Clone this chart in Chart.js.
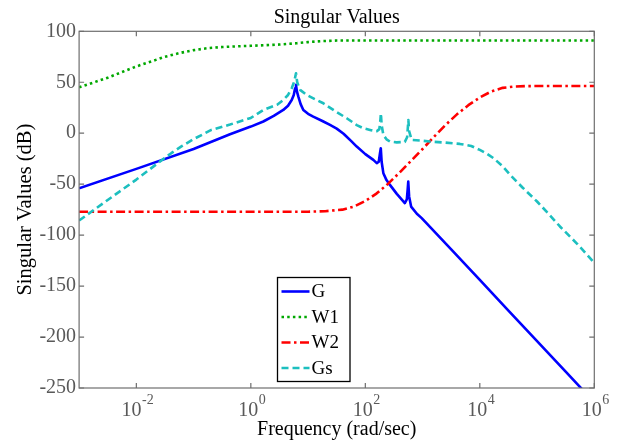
<!DOCTYPE html>
<html><head><meta charset="utf-8">
<script src="https://cdn.jsdelivr.net/npm/chart.js@4/dist/chart.umd.min.js"></script>
<style>html,body{margin:0;padding:0;background:#fff}canvas{display:block}</style>
</head><body>
<canvas id="c" width="620" height="441"></canvas>
<script>
// ---- data (x given as log10 of frequency in rad/sec, y in dB) ----
const seriesNames = ['G', 'W1', 'W2', 'Gs'];

const gExp = [-3,-2,-1,-0.364,0,0.218,0.4,0.567,0.65,0.714,0.75,0.772,0.789,0.805,0.83,0.87,0.917,1.0,1.09,1.25,1.383,1.5,1.62,1.75,1.85,2.0,2.14,2.2,2.235,2.255,2.27,2.285,2.315,2.37,2.43,2.55,2.69,2.725,2.74,2.75,2.765,2.8,2.9,2.985,3.5,4,4.5,5,5.5,6];
const gDb  = [-54,-35,-15.5,-1,6.5,11.5,17,22.8,27,32.6,37.5,44,47.4,41,35.9,28.5,22.8,19,16.3,12,8.1,4.5,-0.5,-7.5,-13.1,-20.5,-26.2,-29.4,-28,-20,-14.7,-28,-39.2,-46,-50.7,-59.5,-68.6,-65,-55,-47.5,-62,-72,-79,-83.3,-114,-144,-174,-204,-234,-264];

const w1Exp = [-3,-2.5,-2,-1.5,-1.25,-1,-0.75,-0.5,0,0.5,0.8,1.0,1.25,1.5,2,3,4,5,6];
const w1Db  = [45,54.5,65.5,75,78.6,81.5,83.5,84.6,85.8,87,88.3,89.4,90.4,90.9,91,91,91,91,91];

const w2Exp = [-3,-2,-1,0,1,1.3,1.6,1.8,2.0,2.2,2.4,2.6,2.8,3.0,3.2,3.4,3.6,3.8,4.0,4.2,4.4,4.6,4.8,5,6];
const w2Db  = [-77,-77,-77,-77,-77,-76.5,-75,-72,-66.5,-59,-49.5,-38.5,-27,-15.5,-3.5,8,18.5,27.5,35,41,44.5,45.8,46.2,46.3,46.3];

const gsExp = [-3,-2.5,-2,-1.5,-1.39,-1.2,-1,-0.69,-0.364,0,0.218,0.46,0.567,0.65,0.714,0.76,0.789,0.81,0.86,0.976,1.1,1.266,1.45,1.675,1.85,1.965,2.1,2.2,2.245,2.262,2.272,2.285,2.315,2.37,2.43,2.55,2.69,2.73,2.742,2.752,2.765,2.81,2.96,3.13,3.4,3.65,3.85,4.0,4.12,4.24,4.4,4.53,4.75,5.0,5.2,5.4,5.7,5.98,6];
const gsDb  = [-85.7,-65.5,-45.5,-24,-19.6,-12.5,-5.8,3.2,8.5,15,22.8,28,32.6,37.5,44.1,51,58.8,50,42.5,37.5,34,29.4,22.5,14.7,8,4.9,3,2,4,12,19.6,8,-1.7,-6,-8.2,-9,-8.5,-4,5,13,2,-6.6,-7.2,-8.2,-9.2,-10.5,-12.5,-16.4,-20,-24.5,-32.5,-40.9,-53.5,-67,-79,-91.5,-108.5,-125.9,-127];

const xTickExps = [-2, 0, 2, 4, 6];
const yTicks = [100, 50, 0, -50, -100, -150, -200, -250];

// ---- build ----
const toPts = (ex, db) => ex.map((e, i) => ({x: Math.pow(10, e), y: db[i]}));
const FONT = "'Liberation Serif','Times New Roman',serif";

const styles = [
  {color: '#0000ff', dash: [], width: 2.6},
  {color: '#00a800', dash: [2.5, 3.2], width: 2.6},
  {color: '#ff0000', dash: [9, 3.5, 2.5, 3.5], width: 2.6},
  {color: '#1cbfbf', dash: [7, 4], width: 2.6}
];
const allData = [toPts(gExp, gDb), toPts(w1Exp, w1Db), toPts(w2Exp, w2Db), toPts(gsExp, gsDb)];
const drawOrder = [3, 2, 1, 0];

const datasets = seriesNames.map((n, i) => ({
  label: n,
  data: allData[i],
  borderColor: styles[i].color,
  backgroundColor: styles[i].color,
  borderDash: styles[i].dash,
  borderWidth: styles[i].width,
  borderJoinStyle: 'round',
  pointRadius: 0,
  tension: 0,
  fill: false,
  clip: 0,
  order: drawOrder[i]
}));

const framePlugin = {
  id: 'frame',
  afterDatasetsDraw(chart) {
    const {ctx, chartArea: a, scales: {x, y}} = chart;
    ctx.save();
    ctx.strokeStyle = '#6e6e6e';
    ctx.lineWidth = 1.2;
    ctx.setLineDash([]);
    ctx.beginPath();
    xTickExps.forEach(e => {
      const px = x.getPixelForValue(Math.pow(10, e));
      ctx.moveTo(px, a.bottom); ctx.lineTo(px, a.bottom - 5);
      ctx.moveTo(px, a.top); ctx.lineTo(px, a.top + 5);
    });
    yTicks.forEach(v => {
      const py = y.getPixelForValue(v);
      ctx.moveTo(a.left, py); ctx.lineTo(a.left + 5, py);
      ctx.moveTo(a.right, py); ctx.lineTo(a.right - 5, py);
    });
    ctx.stroke();
    ctx.strokeRect(a.left, a.top, a.right - a.left, a.bottom - a.top);
    // x tick labels: 10 with a raised exponent
    ctx.fillStyle = '#595959';
    ctx.textBaseline = 'alphabetic';
    ctx.textAlign = 'left';
    xTickExps.forEach(e => {
      const px = x.getPixelForValue(Math.pow(10, e));
      const base = '10', sup = String(e);
      ctx.font = '20px ' + FONT;
      const w1 = ctx.measureText(base).width;
      ctx.font = '14px ' + FONT;
      const w2 = ctx.measureText(sup).width;
      const x0 = px - (w1 + w2) / 2 + 1;
      ctx.font = '20px ' + FONT;
      ctx.fillText(base, x0, a.bottom + 28);
      ctx.font = '14px ' + FONT;
      ctx.fillText(sup, x0 + w1 + 0.5, a.bottom + 16);
    });
    ctx.restore();
  }
};

const legendPlugin = {
  id: 'boxLegend',
  afterDraw(chart) {
    const {ctx} = chart;
    const bx = 277.5, by = 277.5, bw = 72.5, bh = 104;
    ctx.save();
    ctx.fillStyle = '#fff';
    ctx.fillRect(bx, by, bw, bh);
    ctx.strokeStyle = '#000';
    ctx.lineWidth = 1.3;
    ctx.setLineDash([]);
    ctx.strokeRect(bx, by, bw, bh);
    chart.data.datasets.forEach((ds, i) => {
      const cy = by + 14 + i * 25.5;
      ctx.beginPath();
      ctx.strokeStyle = ds.borderColor;
      ctx.lineWidth = ds.borderWidth;
      ctx.setLineDash(ds.borderDash);
      ctx.moveTo(bx + 4, cy);
      ctx.lineTo(bx + 32, cy);
      ctx.stroke();
      ctx.setLineDash([]);
      ctx.fillStyle = '#000';
      ctx.font = '19px ' + FONT;
      ctx.textBaseline = 'middle';
      ctx.textAlign = 'left';
      ctx.fillText(ds.label, bx + 34, cy + 1);
    });
    ctx.restore();
  }
};

new Chart(document.getElementById('c'), {
  type: 'line',
  data: {datasets},
  plugins: [framePlugin, legendPlugin],
  options: {
    responsive: false,
    animation: false,
    devicePixelRatio: 1,
    layout: {padding: {left: 0, right: 25.7, top: 0, bottom: 0}},
    plugins: {
      legend: {display: false},
      tooltip: {enabled: false},
      title: {
        display: true,
        text: 'Singular Values',
        fullSize: false,
        color: '#000',
        font: {family: FONT, size: 20, weight: 'normal'},
        padding: {top: 5.5, bottom: 1.8}
      }
    },
    scales: {
      x: {
        type: 'logarithmic',
        min: 1e-3,
        max: 1e6,
        afterBuildTicks: s => { s.ticks = xTickExps.map(e => ({value: Math.pow(10, e)})); },
        afterFit: s => { s.height = 53; },
        grid: {display: false, drawTicks: false},
        border: {display: false},
        ticks: {display: false},
        title: {
          display: true, text: 'Frequency (rad/sec)', color: '#000',
          font: {family: FONT, size: 20}, padding: {top: 0, bottom: -1}
        }
      },
      y: {
        type: 'linear',
        min: -250,
        max: 100,
        afterBuildTicks: s => { s.ticks = yTicks.map(v => ({value: v})); },
        afterFit: s => { s.width = 79.1; },
        grid: {display: false, drawTicks: false},
        border: {display: false},
        ticks: {
          padding: 3,
          color: '#595959',
          font: {family: FONT, size: 20},
          callback: v => String(v)
        },
        title: {
          display: true, text: 'Singular Values (dB)', color: '#000',
          font: {family: FONT, size: 20.5}, padding: {top: 13.5, bottom: 0}
        }
      }
    }
  }
});
</script>
</body></html>
